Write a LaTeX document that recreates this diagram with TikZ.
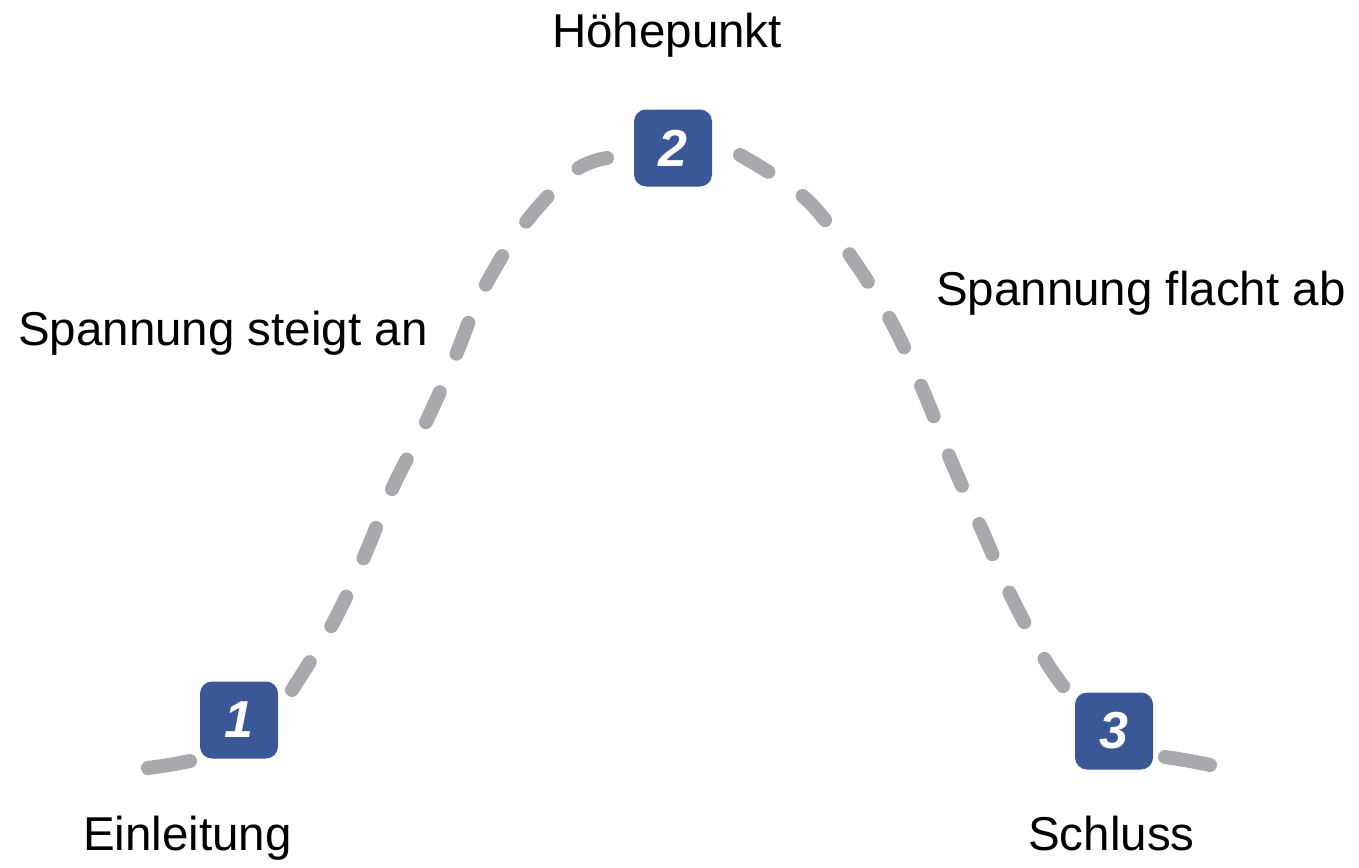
\documentclass[tikz,border=0pt]{standalone}
\usepackage{fontspec}
\setmainfont{Liberation Sans}
\usetikzlibrary{positioning}
\definecolor{boxblue}{RGB}{59,88,150}
\definecolor{trailgray}{RGB}{167,169,172}

\begin{document}
\begin{tikzpicture}[x=1pt, y=-1pt,
	stage/.style = {fill=boxblue, rounded corners=12pt, minimum width=78pt, minimum height=77pt, inner sep=0pt, text=white, font=\fontsize{52}{52}\selectfont\bfseries\itshape},
	caption/.style = {inner sep=0pt, anchor=base west, font=\fontsize{47.5}{57}\selectfont},
	trail/.style = {draw=trailgray, line width=14pt, line cap=round, dash pattern=on 33pt off 42pt}]
		\useasboundingbox (0,0) rectangle (1359,867);

		% the curve of tension
		\coordinate (a0) at (148,768);
		\coordinate (a1) at (190,761);
		\coordinate (b0) at (292,690);
		\coordinate (b1) at (607,158);
		\coordinate (c0) at (740,155);
		\coordinate (c1) at (1068,692);
		\coordinate (d0) at (1165,757);
		\coordinate (d1) at (1210,765);

		\draw[trail, solid] (a0) to[bend right=2] (a1);
		\draw[trail] plot[smooth, tension=0.6] coordinates {(b0) (333,623) (364,557) (393,487) (427,420) (455,357) (482,292) (522,227) (573,172) (b1)};
		\draw[trail] plot[smooth, tension=0.6] coordinates {(c0) (805,198) (852,258) (892,323) (925,395) (952,463) (982,530) (1012,598) (1047,663) (c1)};
		\draw[trail, solid] (d0) to[bend left=2] (d1);

		% stages
		\node[stage] (s1) at (239,720) {1};
		\node[stage] (s2) at (673,148) {2};
		\node[stage] (s3) at (1114,731) {3};

		\node[caption, anchor=base] (top) at (667,48) {Höhepunkt};
		\node[caption] (rise) at (18,345) {Spannung steigt an};
		\node[caption] (fall) at (936,305) {Spannung flacht ab};
		\node[caption] (intro) at (83,850) {Einleitung};
		\node[caption] (outro) at (1028,850) {Schluss};
	\end{tikzpicture}
\end{document}
